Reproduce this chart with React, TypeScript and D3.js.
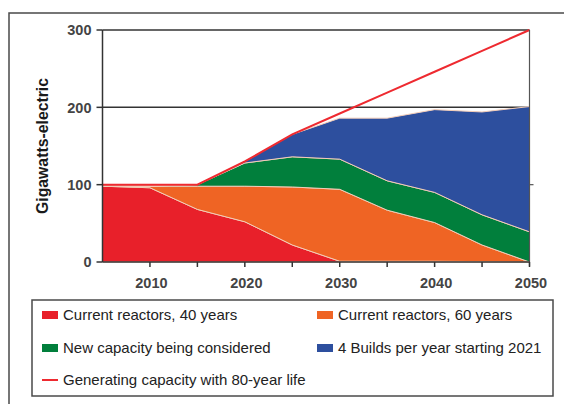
import * as d3 from "d3"

const years = [2005, 2010, 2015, 2020, 2025, 2030, 2035, 2040, 2045, 2050]
const current40 = [98, 96, 68, 52, 22, 1, 1, 1, 0.5, 0]
const current60 = [0, 2, 30, 46, 75, 93, 66, 50, 21.5, 0]
const newCapacity = [0, 0, 2, 30, 39, 39, 38, 39, 39, 39]
const builds = [0, 0, 0, 2, 29, 53, 81, 107, 133, 162]
const capacity80 = [100, 100, 100, 130, 165, 192, 219, 246, 273, 300]

const yTicks = [0, 100, 200, 300]
const xLabels = [2010, 2020, 2030, 2040, 2050]
const xMinor = [2010, 2015, 2020, 2025, 2030, 2035, 2040, 2045, 2050]

const seriesNames = [
  "Current reactors, 40 years",
  "Current reactors, 60 years",
  "New capacity being considered",
  "4 Builds per year starting 2021",
]
const lineName = "Generating capacity with 80-year life"
const colors = ["#e8202a", "#ef6424", "#017f3c", "#2d4f9e"]
const lineColor = "#ee2a30"

export default function App() {
  const x = d3.scaleLinear().domain([2005, 2050]).range([102.5, 529.5])
  const y = d3.scaleLinear().domain([0, 300]).range([262, 30])

  const rows = years.map((yr, i) => ({
    year: yr,
    s0: current40[i],
    s1: current60[i],
    s2: newCapacity[i],
    s3: builds[i],
  }))
  const stacked = d3.stack<any>().keys(["s0", "s1", "s2", "s3"])(rows)

  const area = d3
    .area<any>()
    .x((d) => x(d.data.year))
    .y0((d) => y(d[0]))
    .y1((d) => y(d[1]))

  const line = d3
    .line<number>()
    .x((_, i) => x(years[i]))
    .y((d) => y(d))

  const font = "Arial, 'Liberation Sans', sans-serif"
  const legendItems = [
    { name: seriesNames[0], color: colors[0], col: 0, row: 0 },
    { name: seriesNames[1], color: colors[1], col: 1, row: 0 },
    { name: seriesNames[2], color: colors[2], col: 0, row: 1 },
    { name: seriesNames[3], color: colors[3], col: 1, row: 1 },
  ]
  const colX = [42, 317]
  const rowY = [315, 348, 380]

  return (
    <svg
      width={564}
      height={404}
      style={{ position: "absolute", left: 0, top: 0, background: "#fff" }}
    >
      {/* outer frame */}
      <rect x={9} y={13} width={600} height={450} fill="none" stroke="#4a4a4a" strokeWidth={1.5} />

      {/* gridlines */}
      {yTicks.slice(1).map((t) => (
        <line key={t} x1={x(2005)} x2={x(2050)} y1={y(t)} y2={y(t)} stroke="#333" strokeWidth={1.5} />
      ))}

      {/* stacked areas */}
      {stacked.map((s, i) => (
        <path key={i} d={area(s) || ""} fill={colors[i]} stroke="#f3cdb8" strokeWidth={1} strokeLinejoin="round" />
      ))}

      {/* 80-year life line */}
      <path d={line(capacity80) || ""} fill="none" stroke={lineColor} strokeWidth={2} />

      {/* axes */}
      <line x1={x(2005)} x2={x(2005)} y1={y(300)} y2={y(0)} stroke="#333" strokeWidth={1.5} />
      <line x1={x(2050)} x2={x(2050)} y1={y(300)} y2={y(0) + 4} stroke="#555" strokeWidth={1.2} />
      <line x1={x(2005)} x2={x(2050)} y1={y(0)} y2={y(0)} stroke="#333" strokeWidth={1.5} />

      {yTicks.map((t) => (
        <g key={t}>
          <line x1={x(2005) - 6} x2={x(2005)} y1={y(t)} y2={y(t)} stroke="#333" strokeWidth={1.5} />
          <text
            x={x(2005) - 11}
            y={y(t)}
            dy="0.36em"
            textAnchor="end"
            fontFamily={font}
            fontWeight="bold"
            fontSize={14.5}
            fill="#444"
          >
            {t}
          </text>
        </g>
      ))}
      <line x1={x(2050)} x2={x(2050) + 4} y1={y(100)} y2={y(100)} stroke="#555" strokeWidth={1.2} />

      {xMinor.map((t) => (
        <line key={t} x1={x(t)} x2={x(t)} y1={y(0)} y2={y(0) + 5} stroke="#333" strokeWidth={1.5} />
      ))}
      {xLabels.map((t) => (
        <text
          key={t}
          x={x(t) + 1.5}
          y={288}
          textAnchor="middle"
          fontFamily={font}
          fontWeight="bold"
          fontSize={14.5}
          fill="#444"
        >
          {t}
        </text>
      ))}

      <text
        transform={`translate(48, ${(y(0) + y(300)) / 2}) rotate(-90)`}
        textAnchor="middle"
        fontFamily={font}
        fontWeight="bold"
        fontSize={15.8}
        fill="#1a1a1a"
      >
        Gigawatts-electric
      </text>

      {/* legend */}
      <rect x={32} y={300} width={521} height={96} fill="#fff" stroke="#4a4a4a" strokeWidth={1.5} />
      {legendItems.map((d) => (
        <g key={d.name}>
          <rect x={colX[d.col]} y={rowY[d.row] - 4} width={16} height={8} fill={d.color} />
          <text
            x={colX[d.col] + 21}
            y={rowY[d.row]}
            dy="0.36em"
            fontFamily={font}
            fontSize={15}
            fill="#222"
          >
            {d.name}
          </text>
        </g>
      ))}
      <line x1={colX[0]} x2={colX[0] + 16} y1={rowY[2]} y2={rowY[2]} stroke={lineColor} strokeWidth={2} />
      <text x={colX[0] + 21} y={rowY[2]} dy="0.36em" fontFamily={font} fontSize={15} fill="#222">
        {lineName}
      </text>
    </svg>
  )
}
